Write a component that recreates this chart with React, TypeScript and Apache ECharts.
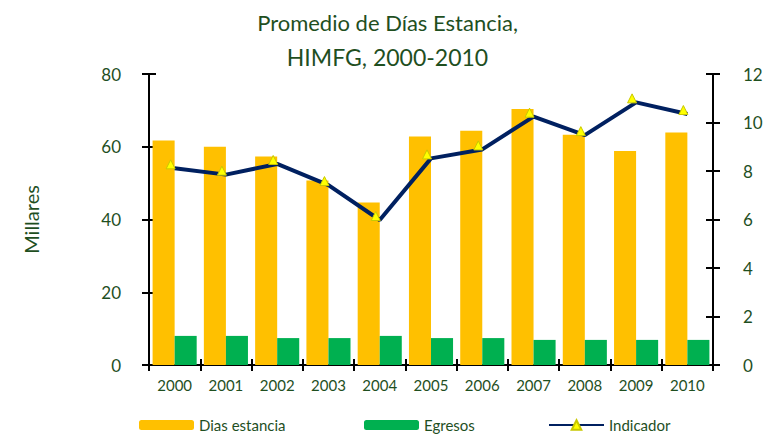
import React, { useEffect, useRef } from "react";
import * as echarts from "echarts";

const years = ["2000", "2001", "2002", "2003", "2004", "2005", "2006", "2007", "2008", "2009", "2010"];
const diasEstancia = [61.7, 60.0, 57.3, 50.7, 44.7, 62.8, 64.4, 70.4, 63.3, 58.8, 63.9];
const egresos = [8.0, 8.0, 7.4, 7.4, 8.0, 7.4, 7.4, 6.9, 6.9, 6.9, 6.9];
const indicador = [8.11, 7.85, 8.29, 7.42, 5.98, 8.52, 8.89, 10.24, 9.48, 10.83, 10.35];

const GREEN_TXT = "#1f4f1f";
const FONT = "Lato, 'Open Sans', sans-serif";

export default function App() {
  const ref = useRef<HTMLDivElement>(null);
  useEffect(() => {
    if (!ref.current) return;
    const chart = echarts.init(ref.current, null, { renderer: "svg" });
    const axisLine = { show: true, lineStyle: { color: "#000", width: 2 } };
    const tickStyle = { color: "#000", width: 2 };
    const legendText = { color: GREEN_TXT, fontFamily: FONT, fontSize: 15, lineHeight: 16 };
    chart.setOption({
      animation: false,
      backgroundColor: "#fff",
      title: [
        {
          text: "Promedio de Días Estancia,",
          left: "center",
          top: 6,
          textStyle: { color: GREEN_TXT, fontFamily: FONT, fontSize: 22, fontWeight: "normal" },
        },
        {
          text: "HIMFG, 2000-2010",
          left: "center",
          top: 40,
          textStyle: { color: GREEN_TXT, fontFamily: FONT, fontSize: 23, fontWeight: "normal" },
        },
      ],
      legend: [
        {
          data: ["Dias estancia"],
          left: 139,
          top: 417,
          padding: 0,
          itemWidth: 55,
          itemHeight: 10,
          textStyle: legendText,
        },
        {
          data: ["Egresos"],
          left: 364,
          top: 417,
          padding: 0,
          itemWidth: 55,
          itemHeight: 10,
          textStyle: legendText,
        },
        {
          data: ["Indicador"],
          left: 548,
          top: 417,
          padding: 0,
          itemWidth: 55,
          itemHeight: 12,
          textStyle: legendText,
        },
      ],
      grid: { left: 149, right: 62, top: 74, bottom: 71 },
      xAxis: [
        {
          type: "category",
          data: years,
          axisLine,
          axisTick: { show: true, length: 6, lineStyle: tickStyle },
          axisLabel: { color: GREEN_TXT, fontFamily: FONT, fontSize: 15, margin: 12 },
        },
        {
          type: "category",
          data: years,
          position: "bottom",
          axisLine: { show: false },
          axisTick: { show: true, inside: true, length: 6, lineStyle: tickStyle },
          axisLabel: { show: false },
        },
      ],
      yAxis: [
        {
          type: "value",
          min: 0,
          max: 80,
          interval: 20,
          position: "left",
          name: "Millares",
          nameLocation: "middle",
          nameGap: 108,
          nameTextStyle: { color: GREEN_TXT, fontFamily: FONT, fontSize: 20 },
          axisLine,
          axisTick: { show: true, length: 7, lineStyle: tickStyle },
          axisLabel: { color: GREEN_TXT, fontFamily: FONT, fontSize: 17, margin: 28 },
          splitLine: { show: false },
        },
        {
          type: "value",
          min: 0,
          max: 12,
          interval: 2,
          position: "right",
          axisLine,
          axisTick: { show: true, length: 7, lineStyle: tickStyle },
          axisLabel: { color: GREEN_TXT, fontFamily: FONT, fontSize: 17, margin: 30 },
          splitLine: { show: false },
        },
        {
          type: "value",
          min: 0,
          max: 80,
          interval: 20,
          position: "left",
          axisLine: { show: false },
          axisTick: { show: true, inside: true, length: 7, lineStyle: tickStyle },
          axisLabel: { show: false },
          splitLine: { show: false },
        },
        {
          type: "value",
          min: 0,
          max: 12,
          interval: 2,
          position: "right",
          axisLine: { show: false },
          axisTick: { show: true, inside: true, length: 7, lineStyle: tickStyle },
          axisLabel: { show: false },
          splitLine: { show: false },
        },
      ],
      series: [
        {
          name: "Dias estancia",
          type: "bar",
          data: diasEstancia,
          yAxisIndex: 0,
          barGap: "0%",
          barCategoryGap: "14%",
          itemStyle: { color: "#FFC000" },
        },
        {
          name: "Egresos",
          type: "bar",
          data: egresos,
          yAxisIndex: 0,
          itemStyle: { color: "#00B050" },
        },
        {
          name: "Indicador",
          type: "line",
          data: indicador,
          yAxisIndex: 1,
          z: 5,
          lineStyle: { color: "#002060", width: 4 },
          itemStyle: { color: "#FFFF00", borderColor: "#C8C800", borderWidth: 1 },
          symbol: "triangle",
          symbolSize: 9,
          symbolOffset: [-4, -4],
        },
      ],
    });
    return () => chart.dispose();
  }, []);
  return (
    <div
      ref={ref}
      style={{ position: "fixed", left: 0, top: 0, width: 775, height: 436 }}
    />
  );
}
